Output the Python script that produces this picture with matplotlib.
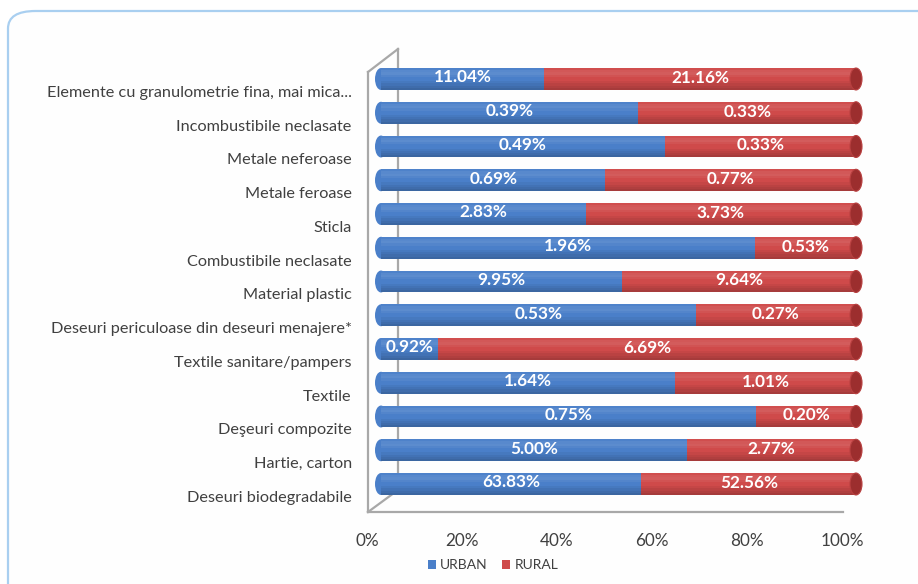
import matplotlib
matplotlib.use("Agg")
import matplotlib.pyplot as plt
import matplotlib.transforms as mtransforms
from matplotlib.patches import Ellipse, FancyBboxPatch
from matplotlib.lines import Line2D
from matplotlib.ticker import PercentFormatter

plt.rcParams['font.family'] = ['Lato', 'DejaVu Sans']

categories = [
    "Elemente cu granulometrie fina, mai mica...",
    "Incombustibile neclasate",
    "Metale neferoase",
    "Metale feroase",
    "Sticla",
    "Combustibile neclasate",
    "Material plastic",
    "Deseuri periculoase din deseuri menajere*",
    "Textile sanitare/pampers",
    "Textile",
    "Deşeuri compozite",
    "Hartie, carton",
    "Deseuri biodegradabile",
]
urban = [11.04, 0.39, 0.49, 0.69, 2.83, 1.96, 9.95, 0.53, 0.92, 1.64, 0.75, 5.00, 63.83]
rural = [21.16, 0.33, 0.33, 0.77, 3.73, 0.53, 9.64, 0.27, 6.69, 1.01, 0.20, 2.77, 52.56]
xticks = [0, 0.2, 0.4, 0.6, 0.8, 1.0]
series_names = ["URBAN", "RURAL"]

BLUE = "#4a7fc9"
RED = "#cf4a4a"
CAP = "#9c2e2e"
TXT = "#404040"

W, H = 918, 584
fig = plt.figure(figsize=(W / 100, H / 100), dpi=100)
fig.patch.set_facecolor("white")
fx = lambda x: x / W
fy = lambda y: 1 - y / H

# rounded outer border
fig.patches.append(FancyBboxPatch((fx(8), fy(640)), fx(960) - fx(8), fy(11) - fy(640),
                                  boxstyle="round,pad=0,rounding_size=0.03",
                                  transform=fig.transFigure, fc="#fefefe",
                                  ec="#a9cff0", lw=1.6, zorder=-2))

# 3D wall lines
wall = [((398, 49), (398, 492)), ((398, 49), (368, 72)), ((368, 72), (368, 512)),
        ((368, 512), (398, 490)), ((368, 512), (843, 512))]
for (x0, y0), (x1, y1) in wall:
    fig.lines.append(Line2D([fx(x0), fx(x1)], [fy(y0), fy(y1)], transform=fig.transFigure,
                            color="#a8a8a8", lw=1.6, zorder=-1))

ax = fig.add_axes([fx(381), fy(512), (856 - 381) / W, (512 - 48) / H])
ax.set_facecolor("none")
n = len(categories)
spacing = 33.75
ax.set_xlim(0, 1)
ax.set_ylim(-(512 - 484) / spacing, n - 1 + (79 - 48) / spacing)

ypos = [n - 1 - i for i in range(n)]
tot = [u + r for u, r in zip(urban, rural)]
ufrac = [u / t for u, t in zip(urban, tot)]
rfrac = [r / t for r, t in zip(rural, tot)]
bh = 0.65

# px -> data width
px = 1 / (856 - 381)
for y in ypos:
    ax.add_patch(Ellipse((0, y), 12 * px, bh, color=BLUE, zorder=2, lw=0, clip_on=False))
b1 = ax.barh(ypos, ufrac, height=bh, color=BLUE, zorder=3, label=series_names[0], lw=0)
b2 = ax.barh(ypos, rfrac, left=ufrac, height=bh, color=RED, zorder=3, label=series_names[1], lw=0)
for y in ypos:
    ax.add_patch(Ellipse((1, y), 12 * px, bh, fc=CAP, ec="#b84040", lw=0.8, zorder=4, clip_on=False))

# cylinder shading: soft highlight near top, gradual darkening toward bottom
nb = 10
for k in range(nb):
    frac_lo = k / nb
    yc = [y - bh / 2 + bh * (frac_lo + 0.5 / nb) for y in ypos]
    t = (k + 0.5) / nb  # 0 bottom, 1 top
    if t < 0.45:
        col, a = "black", 0.22 * (0.45 - t) / 0.45
    elif t > 0.6:
        col, a = "white", 0.12 * (1 - abs(t - 0.78) / 0.22)
    else:
        continue
    ax.barh(yc, [1] * n, height=bh / nb, color=col, alpha=max(a, 0), zorder=3.5, lw=0)

# value labels
for y, u, r, uf, rf in zip(ypos, urban, rural, ufrac, rfrac):
    ax.text(uf / 2, y + 0.05, f"{u:.2f}%", ha="center", va="center", color="white",
            fontsize=12.3, fontweight="bold", zorder=5)
    ax.text(uf + rf / 2, y + 0.03, f"{r:.2f}%", ha="center", va="center", color="white",
            fontsize=12.3, fontweight="bold", zorder=5)

ax.set_yticks(ypos)
ax.set_yticklabels(categories, fontsize=11.7, color=TXT)
ax.tick_params(axis="y", length=0, pad=21)
off_y = mtransforms.ScaledTranslation(0, -12.5 / 100, fig.dpi_scale_trans)
for lab in ax.get_yticklabels():
    lab.set_transform(lab.get_transform() + off_y)

ax.set_xticks(xticks)
ax.xaxis.set_major_formatter(PercentFormatter(1.0, decimals=0))
ax.tick_params(axis="x", length=0, pad=15, labelsize=12.3, labelcolor=TXT)
off_x = mtransforms.ScaledTranslation(-14 / 100, 0, fig.dpi_scale_trans)
for lab in ax.get_xticklabels():
    lab.set_transform(lab.get_transform() + off_x)

for s in ax.spines.values():
    s.set_visible(False)

fig.legend(handles=[b1, b2], labels=series_names, loc="center", bbox_to_anchor=(fx(493), fy(565)),
           ncol=2, frameon=False, fontsize=10, handlelength=0.6, handleheight=0.6,
           handletextpad=0.3, columnspacing=1.0, labelcolor=TXT)

fig.savefig("out.png", dpi=100, facecolor="white")
